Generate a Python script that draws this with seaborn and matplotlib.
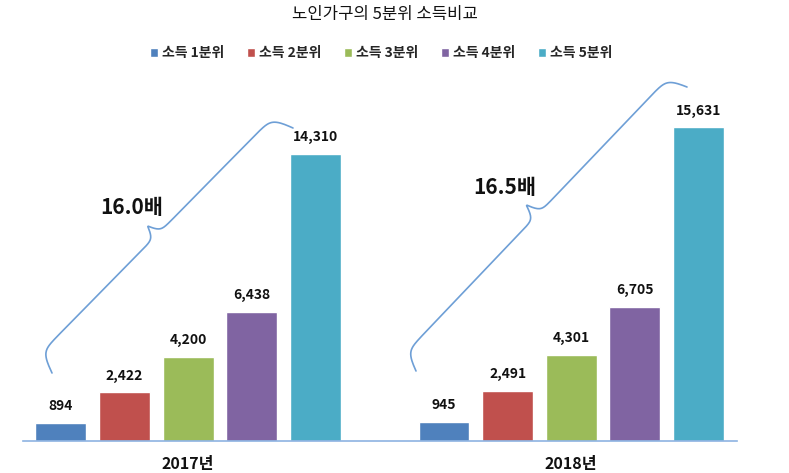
import matplotlib

matplotlib.use("Agg")
import matplotlib.pyplot as plt
import numpy as np
import pandas as pd
import seaborn as sns
from matplotlib.lines import Line2D


years = ["2017년", "2018년"]
quintiles = ["소득 1분위", "소득 2분위", "소득 3분위", "소득 4분위", "소득 5분위"]
income_2017 = [894, 2422, 4200, 6438, 14310]
income_2018 = [945, 2491, 4301, 6705, 15631]
ratio_labels = ["16.0배", "16.5배"]
colors = ["#4F81BD", "#C0504D", "#9BBB59", "#8064A2", "#4BACC6"]

W, H = 789, 473

sns.set_theme(style="white")
plt.rcParams["font.family"] = ["Noto Sans CJK KR", "DejaVu Sans"]


def draw_brace(fig, p0, p1, a_end, a_tip, k=0.12, kt=0.18, color="#6E9FD6"):
    # brace between two pixel points (origin top-left), bulging to upper-left
    p0 = np.array(p0, float)
    p1 = np.array(p1, float)
    length = np.linalg.norm(p1 - p0)
    u = (p1 - p0) / length
    n = np.array([u[1], -u[0]])
    s = np.linspace(0, length, 600)
    off = a_end * (np.tanh(k * s) + np.tanh(k * (length - s)) - 1)
    off += a_tip * (1 - np.tanh(kt * np.abs(s - length / 2)))
    pts = p0[None, :] + s[:, None] * u[None, :] + off[:, None] * n[None, :]
    fig.add_artist(Line2D(pts[:, 0] / W, 1 - pts[:, 1] / H,
                          transform=fig.transFigure, color=color, lw=1.2))


def main() -> None:
    df = pd.DataFrame({
        "year": np.repeat(years, len(quintiles)),
        "quintile": quintiles * len(years),
        "income": income_2017 + income_2018,
    })

    fig = plt.figure(figsize=(W / 100, H / 100), dpi=100)
    ax = fig.add_axes([23 / W, 1 - 441 / H, (737 - 23) / W, (441 - 100) / H])

    sns.barplot(data=df, x="year", y="income", hue="quintile", palette=colors,
                width=0.83, gap=0.2, ax=ax, saturation=1)

    for cont in ax.containers:
        ax.bar_label(cont, labels=[f"{v:,.0f}" for v in cont.datavalues],
                     padding=7, fontsize=10, fontweight="bold", color="#111111")

    ax.set_ylim(0, 17000)
    ax.set_xlim(-0.431, 1.433)
    ax.set_xlabel("")
    ax.set_ylabel("")
    ax.set_yticks([])
    ax.tick_params(axis="x", length=0, pad=11)
    for lbl in ax.get_xticklabels():
        lbl.set_fontsize(11.5)
        lbl.set_fontweight("bold")
        lbl.set_color("#111111")
    for side in ["top", "left", "right"]:
        ax.spines[side].set_visible(False)
    ax.spines["bottom"].set_color("#8DB3E2")
    ax.spines["bottom"].set_linewidth(1.2)

    sns.move_legend(ax, "center", bbox_to_anchor=(381 / W, 1 - 53 / H),
                    bbox_transform=fig.transFigure, ncol=5, frameon=False,
                    title=None, handlelength=0.6, handleheight=0.6,
                    handletextpad=0.3, columnspacing=1.6,
                    prop={"weight": "bold", "size": 10})

    fig.text(385 / W, 1 - 15 / H, "노인가구의 5분위 소득비교", ha="center",
             va="center", fontsize=12, color="#111111")

    draw_brace(fig, (52, 373), (293, 128), a_end=22, a_tip=13)
    draw_brace(fig, (416, 371), (687, 87), a_end=20, a_tip=15)

    fig.text(132 / W, 1 - 207 / H, ratio_labels[0], ha="center", va="center",
             fontsize=15, fontweight="bold", color="#111111")
    fig.text(505 / W, 1 - 187 / H, ratio_labels[1], ha="center", va="center",
             fontsize=15, fontweight="bold", color="#111111")

    fig.savefig("out.png", dpi=100)
    plt.close(fig)


if __name__ == "__main__":
    main()
